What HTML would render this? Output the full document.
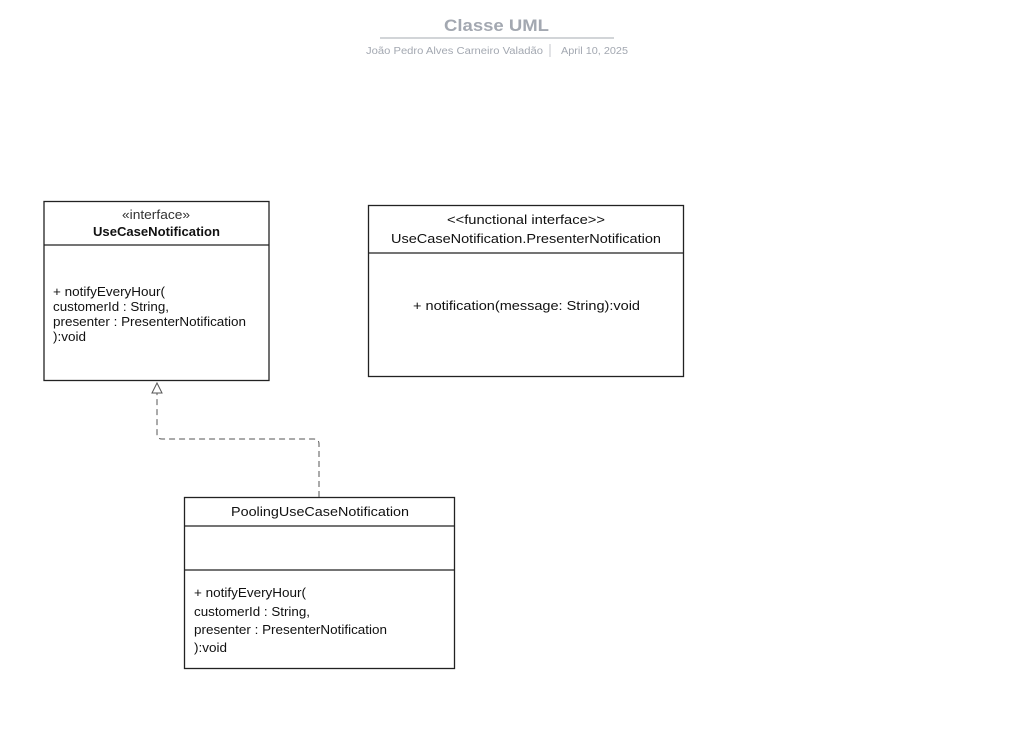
<!DOCTYPE html>
<html><head><meta charset="utf-8"><style>
html,body{margin:0;padding:0;background:#fff;}
svg{display:block;font-family:"Liberation Sans","DejaVu Sans",sans-serif;}
</style></head><body>
<svg width="1028" height="739" viewBox="0 0 1028 739" xmlns="http://www.w3.org/2000/svg">
<rect width="1028" height="739" fill="#fff"/>
<text x="444" y="31" font-size="17" font-weight="bold" fill="#a3a8b1" textLength="105" lengthAdjust="spacingAndGlyphs">Classe UML</text>
<line x1="380" y1="38" x2="614" y2="38" stroke="#c4c7cc" stroke-width="1.5"/>
<text x="366" y="54" font-size="10" fill="#a3a8b1" textLength="177" lengthAdjust="spacingAndGlyphs">João Pedro Alves Carneiro Valadão</text>
<line x1="550" y1="44" x2="550" y2="57" stroke="#c4c7cc"/>
<text x="561" y="54" font-size="10" fill="#a3a8b1" textLength="67" lengthAdjust="spacingAndGlyphs">April 10, 2025</text>

<g stroke="#222" stroke-width="1.3" fill="none">
<rect x="44" y="201.5" width="225" height="179"/>
<line x1="44" y1="245" x2="269" y2="245"/>
<rect x="368.5" y="205.5" width="315" height="171"/>
<line x1="368.5" y1="253" x2="683.5" y2="253"/>
<rect x="184.5" y="497.5" width="270" height="171"/>
<line x1="184.5" y1="526" x2="454.5" y2="526"/>
<line x1="184.5" y1="570" x2="454.5" y2="570"/>
</g>
<g font-size="12.5" fill="#111">
<text x="122" y="219" fill="#333" textLength="68" lengthAdjust="spacingAndGlyphs">«interface»</text>
<text x="93" y="236" font-weight="bold" textLength="127" lengthAdjust="spacingAndGlyphs">UseCaseNotification</text>
<text x="53" y="296" textLength="112" lengthAdjust="spacingAndGlyphs">+ notifyEveryHour(</text>
<text x="53" y="311" textLength="116" lengthAdjust="spacingAndGlyphs">customerId : String,</text>
<text x="53" y="326" textLength="193" lengthAdjust="spacingAndGlyphs">presenter : PresenterNotification</text>
<text x="53" y="341" textLength="33" lengthAdjust="spacingAndGlyphs">):void</text>
<text x="447" y="224" textLength="158" lengthAdjust="spacingAndGlyphs">&lt;&lt;functional interface&gt;&gt;</text>
<text x="391" y="243" textLength="270" lengthAdjust="spacingAndGlyphs">UseCaseNotification.PresenterNotification</text>
<text x="413" y="310" textLength="227" lengthAdjust="spacingAndGlyphs">+ notification(message: String):void</text>
<text x="231" y="516" textLength="178" lengthAdjust="spacingAndGlyphs">PoolingUseCaseNotification</text>
<text x="194" y="597" textLength="112" lengthAdjust="spacingAndGlyphs">+ notifyEveryHour(</text>
<text x="194" y="616" textLength="116" lengthAdjust="spacingAndGlyphs">customerId : String,</text>
<text x="194" y="634" textLength="193" lengthAdjust="spacingAndGlyphs">presenter : PresenterNotification</text>
<text x="194" y="652" textLength="33" lengthAdjust="spacingAndGlyphs">):void</text>
</g>
<path d="M319 497 V444 Q319 439 314 439 H162 Q157 439 157 434 V393" fill="none" stroke="#555" stroke-width="1" stroke-dasharray="6,4"/>
<polygon points="157,383 152,393 162,393" fill="#fff" stroke="#555" stroke-width="1"/>
</svg>
</body></html>
